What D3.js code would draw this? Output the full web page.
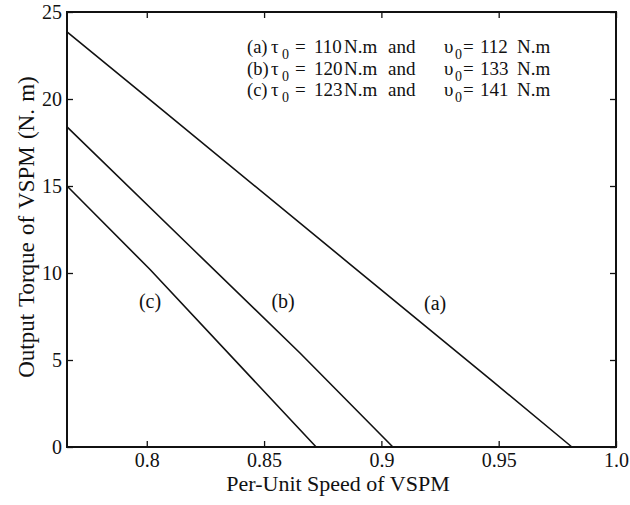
<!DOCTYPE html>
<html>
<head>
<meta charset="utf-8">
<script src="https://cdn.jsdelivr.net/npm/d3@7"></script>
<style>
  body { margin: 0; background: #fff; }
  svg text { font-family: "Liberation Serif", "Tinos", "Times New Roman", Times, serif; }
</style>
</head>
<body>
<div id="chart"></div>
<script>
// Curve data (per-unit speed vs output torque)
const speedA = [0.766, 0.8027, 0.8867, 0.9472, 0.9812];
const torqueA = [23.86, 19.8, 10.5, 3.8, 0];
const speedB = [0.766, 0.8198, 0.8653, 0.9049];
const torqueB = [18.4, 11.35, 5.4, 0];
const speedC = [0.766, 0.8014, 0.8722];
const torqueC = [15.0, 10.2, 0];

const curveNames = ["(a)", "(b)", "(c)"];
const tau0 = [110, 120, 123];
const nu0 = [112, 133, 141];

const xTicks = [0.8, 0.85, 0.9, 0.95, 1.0];
const xTickLabels = ["0.8", "0.85", "0.9", "0.95", "1.0"];
const yTicks = [0, 5, 10, 15, 20, 25];

const serif = "'Liberation Serif', 'Tinos', 'Times New Roman', Times, serif";

const W = 630, H = 505;
const margin = { top: 12, right: 14, bottom: 58, left: 67 };
const width = W - margin.left - margin.right;
const height = H - margin.top - margin.bottom;

const svg = d3.select("#chart").append("svg")
    .attr("width", W)
    .attr("height", H);

const g = svg.append("g")
    .attr("transform", `translate(${margin.left},${margin.top})`);

const x = d3.scaleLinear().domain([0.766, 1.0]).range([0, width]);
const y = d3.scaleLinear().domain([0, 25]).range([height, 0]);

// axes with inward ticks on all four sides
const tickLen = 6;
const xAxis = g.append("g")
    .attr("transform", `translate(0,${height})`)
    .call(d3.axisBottom(x).tickValues(xTicks).tickSize(-tickLen).tickPadding(6)
        .tickFormat((d, i) => xTickLabels[i]));
const yAxis = g.append("g")
    .call(d3.axisLeft(y).tickValues(yTicks).tickSize(-tickLen).tickPadding(5)
        .tickFormat(d3.format("d")));
const topAxis = g.append("g")
    .call(d3.axisTop(x).tickValues(xTicks).tickSize(-tickLen).tickFormat(""));
const rightAxis = g.append("g")
    .attr("transform", `translate(${width},0)`)
    .call(d3.axisRight(y).tickValues(yTicks).tickSize(-tickLen).tickFormat(""));

[xAxis, yAxis, topAxis, rightAxis].forEach(a => {
    a.attr("font-family", null);
    a.select(".domain").remove();
    a.selectAll("line").attr("stroke", "#111").attr("stroke-width", 1.3);
    a.selectAll("text").attr("fill", "#111")
        .style("font-size", "20px")
        .style("font-family", serif);
});

// frame
g.append("rect")
    .attr("width", width)
    .attr("height", height)
    .attr("fill", "none")
    .attr("stroke", "#111")
    .attr("stroke-width", 2);

// curves
const line = d3.line().x(d => x(d[0])).y(d => y(d[1]));
const series = [
    d3.zip(speedA, torqueA),
    d3.zip(speedB, torqueB),
    d3.zip(speedC, torqueC)
];
g.selectAll(".curve")
    .data(series)
    .enter()
    .append("path")
    .attr("class", "curve")
    .attr("d", line)
    .attr("fill", "none")
    .attr("stroke", "#111")
    .attr("stroke-width", 1.6);

// curve labels (placed in data units)
const labelAt = [[0.9229, 8.3], [0.8581, 8.4], [0.8014, 8.4]];
g.selectAll(".curve-label")
    .data(curveNames)
    .enter()
    .append("text")
    .attr("class", "curve-label")
    .attr("x", (d, i) => x(labelAt[i][0]))
    .attr("y", (d, i) => y(labelAt[i][1]))
    .attr("dy", "0.35em")
    .attr("text-anchor", "middle")
    .style("font-size", "20px")
    .style("font-family", serif)
    .style("fill", "#111")
    .text(d => d);

// legend block, top right
const legend = svg.append("g").attr("transform", "translate(247,53)");
const rowGap = 21.5;
curveNames.forEach((name, i) => {
    const row = legend.append("g").attr("transform", `translate(0,${i * rowGap})`);
    const piece = (px, txt, size, dy) => row.append("text")
        .attr("x", px)
        .attr("y", dy || 0)
        .style("font-size", size + "px")
        .style("font-family", serif)
        .style("fill", "#111")
        .text(txt);
    piece(0, name, 18.5);
    piece(24, "\u03c4", 19);
    piece(35, "0", 14, 6);
    piece(48, "=", 19);
    piece(67, tau0[i], 19);
    piece(97, "N.m", 19);
    piece(141, "and", 19);
    piece(197, "\u03c5", 19);
    piece(208, "0", 14, 6);
    piece(216, "=", 19);
    piece(233, nu0[i], 19);
    piece(270, "N.m", 19);
});

// axis titles
svg.append("text")
    .attr("x", 338)
    .attr("y", 491)
    .attr("text-anchor", "middle")
    .style("font-size", "22px")
    .style("font-family", serif)
    .style("fill", "#111")
    .text("Per-Unit Speed of VSPM");

svg.append("text")
    .attr("transform", "translate(34,227) rotate(-90)")
    .attr("text-anchor", "middle")
    .style("font-size", "23px")
    .style("word-spacing", "1.5px")
    .style("font-family", serif)
    .style("fill", "#111")
    .text("Output Torque of VSPM (N. m)");
</script>
</body>
</html>
